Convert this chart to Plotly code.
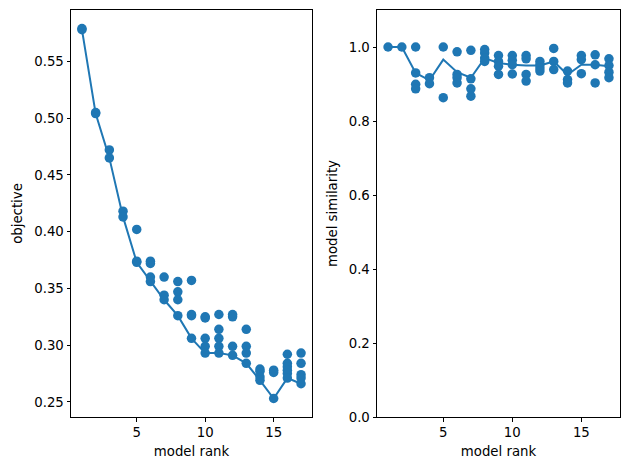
import plotly.graph_objects as go

ranks = list(range(1, 18))

# objective values of all models, grouped by rank
objective_groups = [
    [0.578, 0.579],
    [0.504, 0.505],
    [0.472, 0.465],
    [0.418, 0.413],
    [0.402, 0.374, 0.373],
    [0.374, 0.372, 0.360, 0.356],
    [0.360, 0.344, 0.340],
    [0.356, 0.347, 0.340, 0.326],
    [0.357, 0.327, 0.326, 0.306],
    [0.325, 0.324, 0.306, 0.299, 0.293],
    [0.327, 0.314, 0.306, 0.299, 0.293],
    [0.327, 0.325, 0.299, 0.291],
    [0.314, 0.299, 0.293, 0.284],
    [0.279, 0.277, 0.272, 0.269],
    [0.278, 0.276, 0.253],
    [0.292, 0.284, 0.281, 0.278, 0.275, 0.271],
    [0.293, 0.284, 0.274, 0.271, 0.266],
]
objective_line = [0.578, 0.504, 0.465, 0.413, 0.373, 0.356, 0.340, 0.326, 0.306,
                  0.293, 0.293, 0.291, 0.284, 0.269, 0.253, 0.271, 0.266]

# model similarity values, grouped by rank
similarity_groups = [
    [1.0],
    [1.0],
    [1.0, 0.930, 0.899, 0.887],
    [0.917, 0.901],
    [1.0, 0.863],
    [0.987, 0.926, 0.917, 0.903],
    [0.991, 0.914, 0.887, 0.867],
    [0.993, 0.984, 0.970, 0.961],
    [0.977, 0.961, 0.948, 0.926],
    [0.977, 0.964, 0.952, 0.927],
    [0.977, 0.968, 0.926, 0.908],
    [0.961, 0.952, 0.943, 0.935],
    [0.996, 0.961, 0.939],
    [0.935, 0.912, 0.903],
    [0.977, 0.966, 0.928],
    [0.979, 0.952, 0.903],
    [0.968, 0.950, 0.932, 0.917],
]
similarity_line = [1.0, 1.0, 0.930, 0.910, 0.966, 0.932, 0.917, 0.970, 0.957,
                   0.952, 0.950, 0.950, 0.961, 0.925, 0.952, 0.952, 0.948]

left_yticks = [0.25, 0.30, 0.35, 0.40, 0.45, 0.50, 0.55]
right_yticks = [0.0, 0.2, 0.4, 0.6, 0.8, 1.0]
xticks = [5, 10, 15]

def flatten(groups):
    xs, ys = [], []
    for r, g in zip(ranks, groups):
        for v in g:
            xs.append(r)
            ys.append(v)
    return xs, ys

blue = "#1f77b4"
fig = go.Figure()

ox, oy = flatten(objective_groups)
sx, sy = flatten(similarity_groups)

fig.add_trace(go.Scatter(x=ranks, y=objective_line, mode="lines",
                         line=dict(color=blue, width=2), xaxis="x", yaxis="y", showlegend=False))
fig.add_trace(go.Scatter(x=ox, y=oy, mode="markers",
                         marker=dict(color=blue, size=9.5, line=dict(width=0)),
                         xaxis="x", yaxis="y", showlegend=False))
fig.add_trace(go.Scatter(x=ranks, y=similarity_line, mode="lines",
                         line=dict(color=blue, width=2), xaxis="x2", yaxis="y2", showlegend=False))
fig.add_trace(go.Scatter(x=sx, y=sy, mode="markers",
                         marker=dict(color=blue, size=9.5, line=dict(width=0)),
                         xaxis="x2", yaxis="y2", showlegend=False))

font = dict(family="DejaVu Sans", size=13.3, color="black")
axis_common = dict(showline=True, linecolor="black", linewidth=1, mirror=True,
                   ticks="outside", ticklen=3.5, tickwidth=1, tickcolor="black",
                   showgrid=False, zeroline=False, tickfont=font)

# page body has an 8px default margin, so the figure is offset by (8, 8)
OFF = 8
W, H = 629 - OFF, 470 - OFF
L, R, T, B = 71 - OFF, 9, 10 - OFF, 53
pw = W - L - R
d1 = [0, (312 - 71) / pw]
d2 = [(377 - 71) / pw, 1.0]

ymin = min(objective_line)
ymax = max(max(g) for g in objective_groups)
span = ymax - ymin

fig.update_layout(
    width=W, height=H,
    margin=dict(l=L, r=R, t=T, b=B),
    paper_bgcolor="white", plot_bgcolor="white",
    font=font,
    xaxis=dict(domain=d1, range=[0.2, 17.8], tickvals=xticks, anchor="y",
               title=dict(text="model rank", font=font, standoff=7), **axis_common),
    yaxis=dict(range=[ymin - 0.05 * span, ymax + 0.05 * span], tickvals=left_yticks,
               tickformat=".2f", anchor="x",
               title=dict(text="objective", font=font, standoff=8), **axis_common),
    xaxis2=dict(domain=d2, range=[0.2, 17.8], tickvals=xticks, anchor="y2",
                title=dict(text="model rank", font=font, standoff=7), **axis_common),
    yaxis2=dict(range=[0, 1.1], tickvals=right_yticks, tickformat=".1f", anchor="x2",
                title=dict(text="model similarity", font=font, standoff=8), **axis_common),
)

fig.write_html("out.html")
